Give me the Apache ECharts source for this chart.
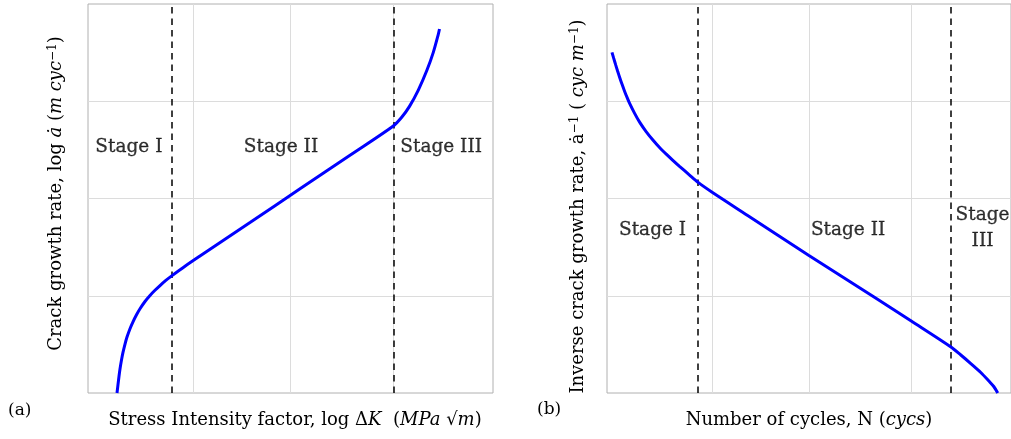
<!DOCTYPE html>
<html>
<head>
<meta charset="utf-8">
<script src="https://cdn.jsdelivr.net/npm/echarts@6/dist/echarts.min.js"></script>
<style>
html,body{margin:0;padding:0;background:#fff;}
#c{width:1011px;height:439px;}
</style>
</head>
<body>
<div id="c"></div>
<script>
// ---- data (x: % of axis span, y: log units) ----
const curveAX = [7.16, 7.41, 7.65, 7.90, 8.27, 8.64, 9.14, 9.63, 10.37, 11.11, 11.98, 12.84, 14.07, 15.31, 16.54, 17.78, 19.14, 20.67, 23.95, 27.65, 40.0, 52.35, 64.69, 75.38, 77.46, 79.38, 81.56, 83.63, 85.26, 86.49, 86.79];
const curveAY = [0, 0.087, 0.170, 0.247, 0.339, 0.417, 0.503, 0.575, 0.661, 0.732, 0.804, 0.866, 0.941, 1.003, 1.056, 1.105, 1.155, 1.204, 1.303, 1.408, 1.753, 2.100, 2.445, 2.746, 2.835, 2.947, 3.115, 3.313, 3.503, 3.688, 3.743];
const curveBX = [1.23, 1.65, 2.15, 2.64, 3.14, 3.75, 4.37, 4.99, 5.60, 6.84, 8.07, 9.68, 11.36, 13.01, 14.67, 16.30, 17.95, 20.30, 22.64, 25.93, 34.81, 49.98, 66.10, 75.31, 85.04, 87.58, 90.05, 92.52, 94.49, 95.73, 96.72];
const curveBY = [3.503, 3.443, 3.374, 3.308, 3.245, 3.171, 3.101, 3.037, 2.978, 2.875, 2.785, 2.688, 2.601, 2.524, 2.456, 2.393, 2.331, 2.246, 2.163, 2.067, 1.826, 1.414, 0.987, 0.740, 0.476, 0.391, 0.303, 0.211, 0.125, 0.067, 0];
const gridXTicks = [26.0, 50.0, 75.3];
const stageBoundsA = [20.74, 75.38];
const stageBoundsB = [22.57, 85.04];
const stageLabelsA = ['Stage I', 'Stage II', 'Stage III'];
const stageLabelXA = [10.1, 47.65, 87.2];
const stageLabelYA = [2.524, 2.524, 2.524];
const stageLabelsB = ['Stage I', 'Stage II', 'Stage\nIII'];
const stageLabelXB = [11.28, 59.68, 92.96];
const stageLabelYB = [1.676, 1.676, 1.697];

const FONT = 'DejaVu Serif';
const TXT = '#000';
const FS = 18;
const zip = (a, b) => a.map((v, i) => [v, b[i]]);

const richBase = {
  i: {fontFamily: FONT, fontStyle: 'italic', fontSize: FS, color: TXT},
  sup: {fontFamily: FONT, fontSize: 12, color: TXT, verticalAlign: 'top', padding: [0, 0, 6, 0]}
};
const nameStyle = (pad) => ({fontFamily: FONT, fontSize: FS, color: TXT, rich: richBase, padding: pad});

function gridSeries(xi, bounds) {
  return [
    {
      type: 'line', xAxisIndex: xi, yAxisIndex: xi, data: [], z: 1, silent: true,
      markLine: {
        z: 1, silent: true, symbol: ['none', 'none'], label: {show: false}, animation: false,
        lineStyle: {color: '#dcdcdc', width: 1, type: 'solid'},
        emphasis: {disabled: true},
        data: gridXTicks.map(v => ({xAxis: v}))
      }
    },
    {
      type: 'line', xAxisIndex: xi, yAxisIndex: xi, data: [], z: 2, silent: true,
      markLine: {
        z: 2, silent: true, symbol: ['none', 'none'], label: {show: false}, animation: false,
        lineStyle: {color: '#000', width: 1.5, type: [6.5, 5]},
        emphasis: {disabled: true},
        data: bounds.map(v => ({xAxis: v}))
      }
    }
  ];
}
function labelSeries(xi, labels, xs, ys) {
  return {
    type: 'scatter', xAxisIndex: xi, yAxisIndex: xi, symbolSize: 0, z: 4, silent: true,
    itemStyle: {color: '#000'},
    label: {show: true, position: [0, 0], align: 'center', verticalAlign: 'middle',
      formatter: p => p.data[2],
      fontFamily: FONT, fontSize: 18.5, color: '#000', lineHeight: 26.5,
      textBorderColor: '#000', textBorderWidth: 0.3},
    data: labels.map((t, i) => [xs[i], ys[i], t])
  };
}
function xAx(gi, name, pad) {
  return {
    type: 'value', gridIndex: gi, min: 0, max: 100,
    axisLine: {show: false}, axisTick: {show: false}, axisLabel: {show: false}, splitLine: {show: false},
    name: name, nameLocation: 'middle', nameGap: 18, nameTextStyle: nameStyle(pad)
  };
}
function yAx(gi, name, gap, pad) {
  return {
    type: 'value', gridIndex: gi, min: 0, max: 4, interval: 1,
    axisLine: {show: false}, axisTick: {show: false}, axisLabel: {show: false},
    splitLine: {show: true, showMinLine: false, showMaxLine: false, lineStyle: {color: '#dcdcdc', width: 1}},
    name: name, nameLocation: 'middle', nameGap: gap, nameTextStyle: nameStyle(pad)
  };
}

const chart = echarts.init(document.getElementById('c'), null, {renderer: 'canvas'});
chart.setOption({
  backgroundColor: '#fff',
  animation: false,
  grid: [
    {left: 88, top: 4, width: 405, height: 389, show: true, borderColor: '#b0b0b0', borderWidth: 1, backgroundColor: 'transparent'},
    {left: 607, top: 4, width: 405, height: 389, show: true, borderColor: '#b0b0b0', borderWidth: 1, backgroundColor: 'transparent'}
  ],
  xAxis: [
    xAx(0, 'Stress Intensity factor, log Δ{i|K}  ({i|MPa} √{i|m})', [0, 0, 0, 9]),
    xAx(1, 'Number of cycles, N ({i|cycs})', [0, 0, 0, 0])
  ],
  yAxis: [
    yAx(0, 'Crack growth rate, log {i|ȧ} ({i|m cyc}{sup|−1})', 23, [0, 0, 0, 10]),
    yAx(1, 'Inverse crack growth rate, ȧ{sup|−1} ( {i|cyc m}{sup|−1})', 20, [0, 16, 0, 0])
  ],
  graphic: [
    {type: 'text', left: 8, top: 402, style: {text: '(a)', font: '17px "DejaVu Serif"', fill: TXT}},
    {type: 'text', left: 537, top: 401, style: {text: '(b)', font: '17px "DejaVu Serif"', fill: TXT}}
  ],
  series: [
    ...gridSeries(0, stageBoundsA),
    ...gridSeries(1, stageBoundsB),
    {type: 'line', xAxisIndex: 0, yAxisIndex: 0, data: zip(curveAX, curveAY), showSymbol: false,
      smooth: 0.3, z: 3, lineStyle: {color: '#0000ff', width: 3}},
    {type: 'line', xAxisIndex: 1, yAxisIndex: 1, data: zip(curveBX, curveBY), showSymbol: false,
      smooth: 0.3, z: 3, lineStyle: {color: '#0000ff', width: 3}},
    labelSeries(0, stageLabelsA, stageLabelXA, stageLabelYA),
    labelSeries(1, stageLabelsB, stageLabelXB, stageLabelYB)
  ]
});
</script>
</body>
</html>
